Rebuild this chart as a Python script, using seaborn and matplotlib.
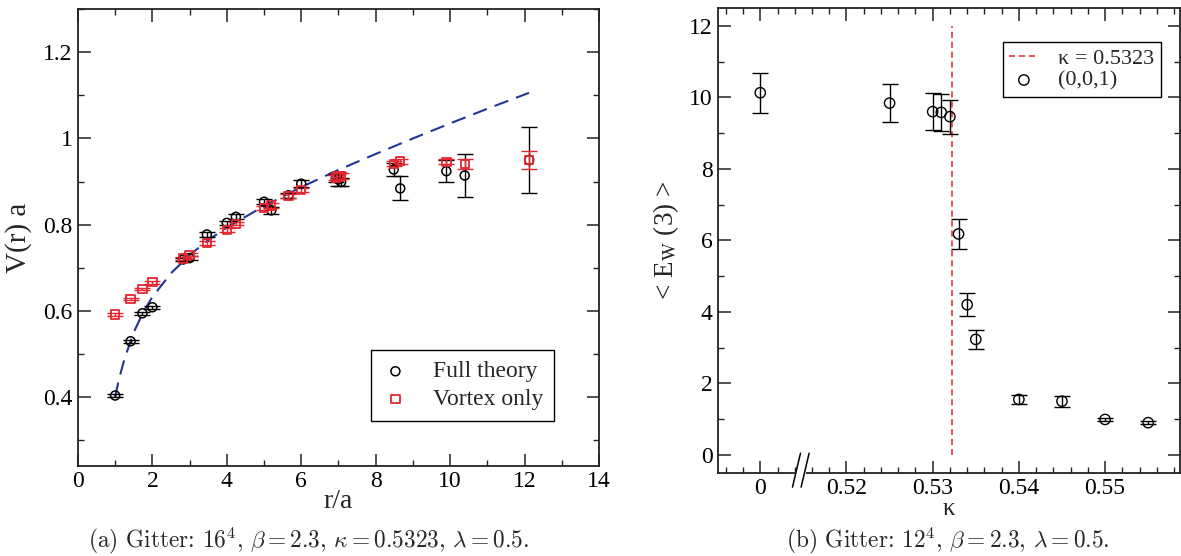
import numpy as np
import pandas as pd
import matplotlib
matplotlib.use("Agg")
import matplotlib.pyplot as plt
import matplotlib.transforms as mtrans
from matplotlib.ticker import MultipleLocator, FixedLocator, FixedFormatter
import seaborn as sns

# ---------------- data: left panel (static potential) ----------------
r_vals = [1.0, 1.414, 1.732, 2.0, 2.828, 3.0, 3.464, 4.0, 4.243, 5.0, 5.196,
          5.657, 6.0, 6.928, 7.0, 7.071, 8.485, 8.660, 9.899, 10.392, 12.124]
v_full = [0.403, 0.529, 0.594, 0.608, 0.719, 0.722, 0.777, 0.804, 0.818, 0.853, 0.833,
          0.868, 0.895, 0.908, 0.905, 0.899, 0.928, 0.884, 0.924, 0.914, 0.950]
e_full = [0.003, 0.003, 0.004, 0.004, 0.004, 0.005, 0.006, 0.005, 0.006, 0.006, 0.008,
          0.006, 0.008, 0.010, 0.016, 0.010, 0.015, 0.028, 0.025, 0.050, 0.077]
v_vortex = [0.591, 0.627, 0.650, 0.666, 0.721, 0.730, 0.757, 0.787, 0.802, 0.839, 0.844,
            0.867, 0.881, 0.909, 0.912, 0.913, 0.941, 0.947, 0.946, 0.940, 0.950]
e_vortex = [0.003, 0.003, 0.003, 0.003, 0.004, 0.004, 0.004, 0.004, 0.004, 0.005, 0.005,
            0.005, 0.005, 0.006, 0.006, 0.006, 0.006, 0.006, 0.006, 0.012, 0.021]
r_fit = [1.0, 1.1, 1.25, 1.5, 1.75, 2.0, 2.5, 3.0, 3.5, 4.0, 5.0, 6.0, 7.0, 8.0,
         9.0, 10.0, 11.0, 12.12]
v_fit = [0.400, 0.440, 0.488, 0.550, 0.596, 0.632, 0.687, 0.729, 0.764, 0.793, 0.843,
         0.887, 0.927, 0.964, 1.000, 1.035, 1.069, 1.106]

# ---------------- data: right panel ----------------
kappa = [0.0, 0.525, 0.530, 0.531, 0.532, 0.533, 0.534, 0.535, 0.540, 0.545, 0.550, 0.555]
ew = [10.13, 9.84, 9.60, 9.58, 9.46, 6.18, 4.20, 3.23, 1.55, 1.50, 0.99, 0.90]
ew_err = [0.56, 0.54, 0.52, 0.52, 0.48, 0.41, 0.32, 0.27, 0.13, 0.15, 0.05, 0.04]
kappa_c = 0.5323
kappa_c_span = [0.0, 12.0]
kappa_ticks = [0.51, 0.52, 0.53, 0.54, 0.55]
kappa_ticklabels = ["0", "0.52", "0.53", "0.54", "0.55"]
kappa_zero_pos = 0.51   # where kappa = 0 is drawn on the broken axis
kappa_break = 0.5142

# ---------------- style ----------------
sns.set_theme(style="ticks")
plt.rcParams["font.family"] = ["Liberation Serif", "DejaVu Serif"]
plt.rcParams["mathtext.fontset"] = "stix"

RED = "#e3262f"
NAVY = "#23349a"
SPINE = "#222222"

fig = plt.figure(figsize=(11.81, 5.56), dpi=100)
axL = fig.add_axes([0.0660, 0.1624, 0.4412, 0.8209])
axR = fig.add_axes([0.6080, 0.1498, 0.3912, 0.8358])

def style_axes(ax):
    for s in ax.spines.values():
        s.set_linewidth(1.3)
        s.set_color(SPINE)
    ax.tick_params(which="both", direction="in", top=True, right=True,
                   colors=SPINE, labelcolor="black", labelsize=17, pad=4)
    ax.tick_params(which="major", length=9, width=1.1)
    ax.tick_params(which="minor", length=4.5, width=1.0)

# ---------------- left panel ----------------
df_fit = pd.DataFrame({"r": r_fit, "V": v_fit})
sns.lineplot(data=df_fit, x="r", y="V", ax=axL, color=NAVY, lw=1.5,
             linestyle=(0, (7, 4)), sort=False, legend=False, zorder=2)

axL.errorbar(r_vals, v_full, yerr=e_full, fmt="none", ecolor="black",
             elinewidth=1.0, capsize=5.5, capthick=1.0, zorder=3)
axL.errorbar(r_vals, v_vortex, yerr=e_vortex, fmt="none", ecolor=RED,
             elinewidth=1.0, capsize=5.5, capthick=1.0, zorder=3)
sns.scatterplot(x=r_vals, y=v_full, ax=axL, marker="o", s=42, color="black",
                facecolor="none", edgecolor="black", linewidth=1.1,
                label="Full theory", zorder=4)
sns.scatterplot(x=r_vals, y=v_vortex, ax=axL, marker="s", s=36, color=RED,
                facecolor="none", edgecolor=RED, linewidth=1.3,
                label="Vortex only", zorder=4)

axL.set_xlim(0, 14)
axL.set_ylim(0.24, 1.3)
axL.xaxis.set_major_locator(MultipleLocator(2))
axL.xaxis.set_minor_locator(MultipleLocator(1))
axL.yaxis.set_major_locator(FixedLocator([0.4, 0.6, 0.8, 1.0, 1.2]))
axL.yaxis.set_major_formatter(FixedFormatter(["0.4", "0.6", "0.8", "1", "1.2"]))
axL.yaxis.set_minor_locator(MultipleLocator(0.1))
style_axes(axL)
axL.set_xlabel("r/a", fontsize=20, labelpad=-2)
axL.set_ylabel("V(r) a", fontsize=21, labelpad=8)

legL = axL.legend(loc="lower right", bbox_to_anchor=(0.914, 0.099), borderaxespad=0,
                  fontsize=17, frameon=True, fancybox=False, framealpha=1,
                  edgecolor="black", handlelength=1.2, handletextpad=1.0,
                  labelspacing=0.25, borderpad=0.45)
legL.get_frame().set_linewidth(1.0)

# ---------------- right panel ----------------
kappa_pos = [kappa_zero_pos if k == 0 else k for k in kappa]
axR.errorbar(kappa_pos, ew, yerr=ew_err, fmt="none", ecolor="black",
             elinewidth=1.0, capsize=5.5, capthick=1.0, zorder=3)
df_vl = pd.DataFrame({"k": [kappa_c, kappa_c], "E": kappa_c_span})
sns.lineplot(data=df_vl, x="k", y="E", ax=axR, color=RED, lw=1.1,
             linestyle=(0, (4, 2.5)), sort=False, label=r"κ = 0.5323",
             estimator=None, zorder=2)
sns.scatterplot(x=kappa_pos, y=ew, ax=axR, marker="o", s=55, color="black",
                facecolor="none", edgecolor="black", linewidth=1.0,
                label="(0,0,1)", zorder=4)

axR.set_xlim(0.5051, 0.5587)
axR.set_ylim(-0.5, 12.5)
axR.xaxis.set_major_locator(FixedLocator(kappa_ticks))
axR.xaxis.set_major_formatter(FixedFormatter(kappa_ticklabels))
axR.xaxis.set_minor_locator(MultipleLocator(0.002))
axR.yaxis.set_major_locator(MultipleLocator(2))
axR.yaxis.set_minor_locator(MultipleLocator(1))
style_axes(axR)
axR.set_xlabel("κ", fontsize=18, labelpad=-1)
axR.set_ylabel(r"< E$_{\rm W}$ (3) >", fontsize=19.5, labelpad=6)

legR = axR.legend(loc="upper right", bbox_to_anchor=(0.959, 0.927), borderaxespad=0,
                  fontsize=16, frameon=True, fancybox=False, framealpha=1,
                  edgecolor="black", handlelength=1.3, handletextpad=0.9,
                  labelspacing=0.05, borderpad=0.3)
legR.get_frame().set_linewidth(1.0)

# axis-break marks on the bottom spine
trans = mtrans.blended_transform_factory(axR.transData, axR.transAxes)
dx = 0.00093
for off in (0.0, 0.00100):
    x0 = kappa_break + off
    axR.plot([x0 - dx / 2, x0 + dx / 2], [-0.031, 0.042], transform=trans,
             color="black", lw=1.1, clip_on=False, zorder=6)
axR.plot([kappa_break + 0.0001, kappa_break + 0.0009], [0, 0], transform=trans,
         color="white", lw=3, clip_on=False, zorder=5)

# captions
fig.text(0.2616, 0.027, r"(a) Gitter: $16^4$, $\beta = 2.3$, $\kappa = 0.5323$, $\lambda = 0.5$.",
         ha="center", va="center", fontsize=16.8, family="cmr10", math_fontfamily="cm")
fig.text(0.8027, 0.027, r"(b) Gitter: $12^4$, $\beta = 2.3$, $\lambda = 0.5$.",
         ha="center", va="center", fontsize=16.8, family="cmr10", math_fontfamily="cm")

fig.savefig("out.png", dpi=100)
